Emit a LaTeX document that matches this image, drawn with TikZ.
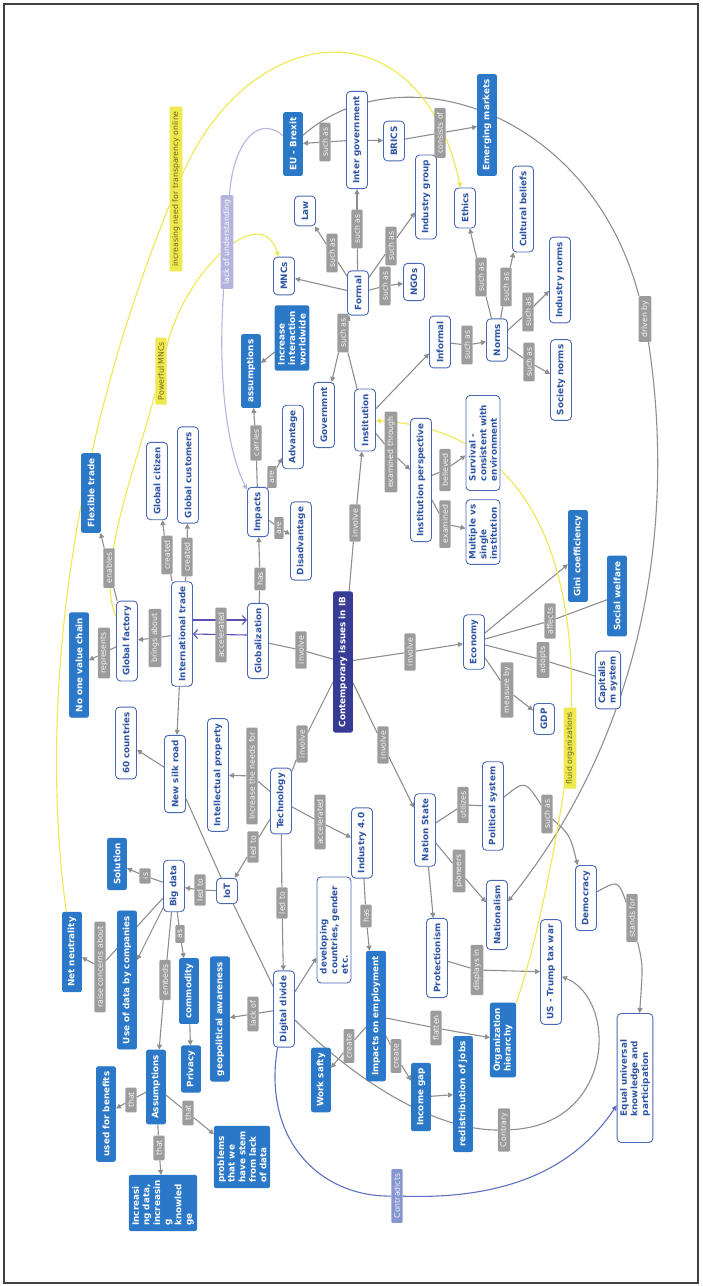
\documentclass[tikz,border=0pt]{standalone}
\usepackage{fontspec}
\newfontfamily\mapfont{DejaVu Sans}
\usetikzlibrary{arrows.meta,backgrounds}

\definecolor{cmblue}{HTML}{2B78C9}
\definecolor{cmline}{HTML}{4A68B5}
\definecolor{cmtext}{HTML}{2E54A4}
\definecolor{cmgray}{HTML}{9C9C9C}
\definecolor{cmedge}{HTML}{8E8E8E}
\definecolor{cmyel}{HTML}{EFE84E}
\definecolor{cmyeltxt}{HTML}{6E6A1E}
\definecolor{cmnavy}{HTML}{363C96}
\definecolor{cmlav}{HTML}{B4B4DE}
\definecolor{cmpurple}{HTML}{5E4FB0}
\definecolor{cmcontra}{HTML}{8595CF}
\definecolor{cmcontraln}{HTML}{5D6FC0}

\begin{document}
\begin{tikzpicture}[x=1pt,y=-1pt,
  >={Triangle[length=5pt,width=5pt]},
  every node/.style={rotate=90},
  cpt/.style={draw=cmline,line width=0.9pt,fill=white,rounded corners=4pt,text=cmtext,
    font=\mapfont\fontsize{8.8}{10.6}\selectfont\bfseries,inner xsep=5pt,inner ysep=3pt,
    minimum height=21pt,align=left},
  hot/.style={cpt,draw=cmblue,fill=cmblue,text=white,rounded corners=2pt,minimum height=19pt},
  root/.style={hot,draw=cmnavy,fill=cmnavy},
  lnk/.style={fill=cmgray,text=white!92!cmgray,font=\mapfont\fontsize{7.8}{9}\selectfont,
    inner xsep=4.5pt,inner ysep=2.5pt,rounded corners=1pt},
  ylnk/.style={lnk,fill=cmyel,text=cmyeltxt},
  plnk/.style={lnk,fill=cmlav,text=white},
  clnk/.style={lnk,fill=cmcontra,text=white!90!cmcontra},
  ln/.style={draw=cmedge,line width=1.1pt},
  yl/.style={draw=cmyel,line width=1.1pt},
  pl/.style={draw=cmlav,line width=1.1pt},
  cl/.style={draw=cmcontraln,line width=1.1pt},
  al/.style={draw=cmpurple,line width=1.1pt,>={Straight Barb[length=4pt,width=9pt]}},
]
\useasboundingbox (0,0) rectangle (702,1286);
\draw[line width=1.4pt,black!75] (4,4) rectangle (698,1283);

% main topic
\node[root] (ciib) at (343,662) {Contemporary issues in IB};

% concepts
\node[cpt] (inter) at (357,140) {Inter government};
\node[cpt] (brics) at (394,141) {BRICS};
\node[cpt] (indgrp) at (426,197) {Industry group};
\node[cpt] (ethics) at (465,208) {Ethics};
\node[cpt] (law) at (305,211) {Law};
\node[cpt] (ngos) at (414,282) {NGOs};
\node[cpt] (formal) at (358,293) {Formal};
\node[cpt] (mncs) at (284,276) {MNCs};
\node[cpt] (impacts) at (258,512) {Impacts};
\node[cpt] (adv) at (293,437) {Advantage};
\node[cpt] (disadv) at (301,541) {Disadvantage};
\node[cpt] (glob) at (258,641) {Globalization};
\node[cpt] (inst) at (365,420) {Institution};
\node[cpt] (govt) at (324,415) {Governmnt};
\node[cpt] (informal) at (440,342) {Informal};
\node[cpt] (norms) at (497,340) {Norms};
\node[cpt] (instp) at (421,480) {Institution perspective};
\node[cpt,minimum width=95pt] (survival) at (483,443) {Survival -\\consistent with\\environment};
\node[cpt] (multiple) at (483,532) {Multiple vs\\single\\institution};
\node[cpt] (socnorms) at (561,380) {Society norms};
\node[cpt] (indnorms) at (560,280) {Industry norms};
\node[cpt] (cultural) at (523,209) {Cultural beliefs};
\node[cpt] (economy) at (474,642) {Economy};
\node[cpt] (capital) at (608,680) {Capitalis\\m system};
\node[cpt] (gdp) at (544,719) {GDP};
\node[cpt] (polsys) at (493,806) {Political system};
\node[cpt] (democracy) at (586,898) {Democracy};
\node[cpt] (nationalism) at (497,915) {Nationalism};
\node[cpt] (nation) at (425,830) {Nation State};
\node[cpt] (protect) at (437,958) {Protectionism};
\node[cpt] (trump) at (551,972) {US - Trump tax war};
\node[cpt,minimum width=129pt] (equal) at (635,1078) {Equal universal\\knowledge and\\participation};
\node[cpt] (digital) at (284,1009) {Digital divide};
\node[cpt,minimum width=106pt] (developing) at (334,930) {developing\\countries, gender\\etc.};
\node[cpt] (tech) at (281,801) {Technology};
\node[cpt] (industry) at (362,843) {Industry 4.0};
\node[cpt] (intprop) at (218,775) {Intellectual property};
\node[cpt] (iot) at (227,891) {IoT};
\node[cpt] (silk) at (175,774) {New silk road};
\node[cpt] (sixty) at (126,743) {60 countries};
\node[cpt] (gfactory) at (127,641) {Global factory};
\node[cpt] (itrade) at (182,634) {International trade};
\node[cpt] (gcitizen) at (157,481) {Global citizen};
\node[cpt] (gcustomer) at (188,475) {Global customers};
\node[cpt] (bigdata) at (174,886) {Big data};

% highlighted concepts
\node[hot] (brexit) at (293,144) {EU - Brexit};
\node[hot] (emerging) at (487,125) {Emerging markets};
\node[hot] (increase) at (292,338) {Increase\\interaction\\worldwide};
\node[hot] (assump) at (251,371) {assumptions};
\node[hot] (gini) at (578,556) {Gini coefficiency};
\node[hot] (welfare) at (617,596) {Social welfare};
\node[hot] (orgh) at (503,1040) {Organization\\hierarchy};
\node[hot] (redist) at (463,1094) {redistribution of jobs};
\node[hot] (income) at (421,1097) {Income gap};
\node[hot] (impemp) at (376,1016) {Impacts on employment};
\node[hot] (worksafty) at (321,1080) {Work safty};
\node[hot] (geopol) at (220,1019) {geopolitical awareness};
\node[hot] (novalue) at (79,665) {No one value chain};
\node[hot] (flexible) at (91,493) {Flexible trade};
\node[hot] (solution) at (117,864) {Solution};
\node[hot] (netneut) at (72,952) {Net neutrality};
\node[hot] (usedata) at (127,980) {Use of data by companies};
\node[hot] (commodity) at (189,991) {commodity};
\node[hot] (privacy) at (191,1069) {Privacy};
\node[hot] (assumpt) at (156,1087) {Assumptions};
\node[hot] (benefits) at (106,1114) {used for benefits};
\node[hot] (incdata) at (163,1203) {Increasi\\ng data,\\increasin\\g\\knowled\\ge};
\node[hot] (problems) at (242,1157) {problems\\that we\\have stem\\from lack\\of data};

% linking phrases
\node[lnk] (l1) at (325,142) {such as};
\node[lnk] (l2) at (440,133) {consists of};
\node[lnk] (l3) at (332,253) {such as};
\node[lnk] (l4) at (357,229) {such as};
\node[lnk] (l5) at (391,246) {such as};
\node[lnk] (l6) at (385,286) {such as};
\node[lnk] (l7) at (256,443) {carries};
\node[lnk] (l8) at (272,477) {are};
\node[lnk] (l9) at (279,528) {are};
\node[lnk] (l10) at (260,579) {has};
\node[lnk] (l11) at (301,650) {involve};
\node[lnk] (l12) at (355,523) {involve};
\node[lnk] (l13) at (343,333) {such as};
\node[lnk] (l14) at (467,345) {such as};
\node[lnk] (l15) at (391,452) {examined through};
\node[lnk] (l16) at (445,470) {believed};
\node[lnk] (l17) at (445,524) {examined};
\node[lnk] (l18) at (529,362) {such as};
\node[lnk] (l19) at (528,312) {such as};
\node[lnk] (l20) at (506,287) {such as};
\node[lnk] (l21) at (481,277) {such as};
\node[lnk] (l22) at (645,319) {driven by};
\node[lnk] (l23) at (550,621) {affects};
\node[lnk] (l24) at (543,660) {adopts};
\node[lnk] (l25) at (507,690) {measure by};
\node[lnk] (l26) at (410,652) {involve};
\node[lnk] (l27) at (463,805) {utilizes};
\node[lnk] (l28) at (547,814) {such as};
\node[lnk] (l29) at (632,918) {stands for};
\node[lnk] (l30) at (459,871) {pioneers};
\node[lnk] (l31) at (383,745) {involve};
\node[lnk] (l32) at (477,970) {displays in};
\node[lnk] (l33) at (504,1130) {Contrary};
\node[lnk] (l34) at (436,1028) {flatten};
\node[lnk] (l35) at (396,1056) {create};
\node[lnk] (l36) at (366,916) {has};
\node[lnk] (l37) at (349,1046) {create};
\node[lnk] (l38) at (253,1014) {lack of};
\node[lnk] (l39) at (302,744) {involve};
\node[lnk] (l40) at (320,822) {accelerated};
\node[lnk] (l41) at (282,903) {led to};
\node[lnk] (l42) at (252,776) {Increase the needs for};
\node[lnk] (l43) at (253,847) {led to};
\node[lnk] (l44) at (104,653) {represents};
\node[lnk] (l45) at (155,638) {brings about};
\node[lnk] (l46) at (167,555) {created};
\node[lnk] (l47) at (187,557) {created};
\node[lnk] (l48) at (109,568) {enables};
\node[lnk] (l49) at (221,635) {accelerated};
\node[lnk] (l50) at (145,876) {is};
\node[lnk] (l51) at (200,890) {led to};
\node[lnk] (l52) at (100,967) {raise concerns about};
\node[lnk] (l53) at (180,934) {as};
\node[lnk] (l54) at (165,980) {embeds};
\node[lnk] (l55) at (131,1100) {that};
\node[lnk] (l56) at (159,1148) {that};
\node[lnk] (l57) at (188,1113) {that};
\node[ylnk] (transp) at (176,189) {increasing need for transparency online};
\node[ylnk] (pmncs) at (161,371) {Powerful MNCs};
\node[ylnk] (fluid) at (570,748) {fluid organizations};
\node[plnk] (lackund) at (227,242) {lack of understanding};
\node[clnk] (contr) at (397,1196) {Contradicts};

\begin{pgfonlayer}{background}
% institutions
\draw[ln] (inter) -- (l1); \draw[ln,->] (l1) -- (brexit);
\draw[ln,->] (inter) -- (brics);
\draw[ln] (brics) -- (l2); \draw[ln,->] (l2) -- (emerging);
\draw[ln] (formal) -- (l3); \draw[ln,->] (l3) -- (law);
\draw[ln] (formal) -- (l4); \draw[ln,->] (l4) -- (inter);
\draw[ln] (formal) -- (l5); \draw[ln,->] (l5) -- (indgrp);
\draw[ln] (formal) -- (l6); \draw[ln,->] (l6) -- (ngos);
\draw[ln,->] (formal) -- (mncs);
\draw[ln,->] (increase) -- (assump);
\draw[ln] (impacts) -- (l7); \draw[ln,->] (l7) -- (assump);
\draw[ln] (impacts) -- (l8); \draw[ln,->] (l8) -- (adv);
\draw[ln] (impacts) -- (l9); \draw[ln,->] (l9) -- (disadv);
\draw[ln] (glob) -- (l10); \draw[ln,->] (l10) -- (impacts);
\draw[ln] (ciib) -- (l11); \draw[ln] (l11) -- (glob);
\draw[ln] (ciib) -- (l12); \draw[ln,->] (l12) -- (inst);
\draw[ln] (inst) -- (l13); \draw[ln,->] (l13) -- (formal); \draw[ln,->] (l13) -- (govt);
\draw[ln,->] (inst) -- (informal);
\draw[ln] (informal) -- (l14); \draw[ln,->] (l14) -- (norms);
\draw[ln] (inst) -- (l15); \draw[ln,->] (l15) -- (instp);
\draw[ln] (instp) -- (l16); \draw[ln,->] (l16) -- (survival);
\draw[ln] (instp) -- (l17); \draw[ln,->] (l17) -- (multiple);
\draw[ln] (norms) -- (l18); \draw[ln,->] (l18) -- (socnorms);
\draw[ln] (norms) -- (l19); \draw[ln,->] (l19) -- (indnorms);
\draw[ln] (norms) -- (l20); \draw[ln,->] (l20) -- (cultural);
\draw[ln] (norms) -- (l21); \draw[ln,->] (l21) -- (ethics);
% economy and state
\draw[ln,->] (economy) -- (gini);
\draw[ln] (economy) -- (l23); \draw[ln] (l23) -- (welfare);
\draw[ln] (economy) -- (l24); \draw[ln] (l24) -- (capital);
\draw[ln] (economy) -- (l25); \draw[ln,->] (l25) -- (gdp);
\draw[ln] (ciib) -- (l26); \draw[ln,->] (l26) -- (economy);
\draw[ln] (nation) -- (l27); \draw[ln] (l27) -- (polsys);
\draw[ln] (nation) -- (l30); \draw[ln,->] (l30) -- (nationalism);
\draw[ln] (ciib) -- (l31); \draw[ln,->] (l31) -- (nation);
\draw[ln,->] (nation) -- (protect);
\draw[ln] (protect) -- (l32); \draw[ln,->] (l32) -- (trump);
\draw[ln] (polsys) .. controls (525,780) .. (l28);
\draw[ln,->] (l28) .. controls (570,835) .. (democracy);
\draw[ln] (democracy) .. controls (618,880) .. (l29);
\draw[ln,->] (l29) .. controls (643,965) .. (equal);
% technology
\draw[ln] (impemp) -- (l34); \draw[ln,->] (l34) -- (orgh);
\draw[ln] (impemp) -- (l35); \draw[ln,->] (l35) -- (income);
\draw[ln,->] (income) -- (redist);
\draw[ln] (industry) -- (l36); \draw[ln,->] (l36) -- (impemp);
\draw[ln] (impemp) -- (l37); \draw[ln,->] (l37) -- (worksafty);
\draw[ln] (digital) -- (l38); \draw[ln,->] (l38) -- (geopol);
\draw[ln,->] (digital) -- (developing);
\draw[ln] (ciib) -- (l39); \draw[ln] (l39) -- (tech);
\draw[ln] (tech) -- (l40); \draw[ln,->] (l40) -- (industry);
\draw[ln] (tech) -- (l41); \draw[ln,->] (l41) -- (digital);
\draw[ln] (tech) -- (l42); \draw[ln,->] (l42) -- (intprop);
\draw[ln] (tech) -- (l43); \draw[ln,->] (l43) -- (iot);
\draw[ln] (silk) -- (iot);
\draw[ln] (iot) -- (digital);
\draw[ln] (digital) .. controls (350,1075) and (430,1130) .. (l33);
\draw[ln,->] (l33) .. controls (615,1125) and (618,1000) .. (trump);
% trade
\draw[ln,->] (itrade) -- (silk);
\draw[ln,->] (silk) -- (sixty);
\draw[ln] (gfactory) -- (l44); \draw[ln,->] (l44) -- (novalue);
\draw[ln] (itrade) -- (l45); \draw[ln,->] (l45) -- (gfactory);
\draw[ln] (itrade) -- (l46); \draw[ln,->] (l46) -- (gcitizen);
\draw[ln] (itrade) -- (l47); \draw[ln,->] (l47) -- (gcustomer);
\draw[ln] (gfactory) -- (l48); \draw[ln,->] (l48) -- (flexible);
\draw[al,->] ([yshift=14pt]itrade.south) -- ([yshift=21pt]glob.north);
\draw[al,->] ([yshift=6pt]glob.north) -- (itrade.south);
% data
\draw[ln] (bigdata) -- (l50); \draw[ln,->] (l50) -- (solution);
\draw[ln] (iot) -- (l51); \draw[ln,->] (l51) -- (bigdata);
\draw[ln] (bigdata) -- (l52); \draw[ln,->] (l52) -- (netneut);
\draw[ln,->] (bigdata) -- (usedata);
\draw[ln] (bigdata) -- (l53); \draw[ln,->] (l53) -- (commodity);
\draw[ln] (bigdata) -- (l54); \draw[ln,->] (l54) -- (assumpt);
\draw[ln,->] (commodity) -- (privacy);
\draw[ln] (assumpt) -- (l55); \draw[ln,->] (l55) -- (benefits);
\draw[ln] (assumpt) -- (l56); \draw[ln,->] (l56) -- (incdata);
\draw[ln] (assumpt) -- (l57); \draw[ln,->] (l57) -- (problems);
% cross links
\draw[ln] (brexit) .. controls (400,50) and (590,110) .. (l22);
\draw[ln,->] (l22) .. controls (680,550) and (630,750) .. (nationalism);
\draw[yl] (netneut) .. controls (45,760) and (50,500) .. (transp);
\draw[yl,->] (transp) .. controls (250,20) and (420,0) .. (ethics);
\draw[yl] (gfactory) .. controls (95,570) and (135,470) .. (pmncs);
\draw[yl,->] (pmncs) .. controls (185,270) and (262,200) .. (mncs);
\draw[pl] (brexit) .. controls (255,112) and (232,150) .. (lackund);
\draw[pl,->] (lackund) .. controls (218,370) and (225,445) .. (impacts);
\draw[yl] (orgh) .. controls (535,950) and (555,850) .. (fluid);
\draw[yl,->] (fluid) .. controls (575,580) and (540,430) .. (inst);
\draw[cl] (digital) .. controls (262,1140) and (320,1197) .. (contr);
\draw[cl,->] (contr) .. controls (520,1200) and (580,1160) .. (equal);
\end{pgfonlayer}
\end{tikzpicture}
\end{document}
